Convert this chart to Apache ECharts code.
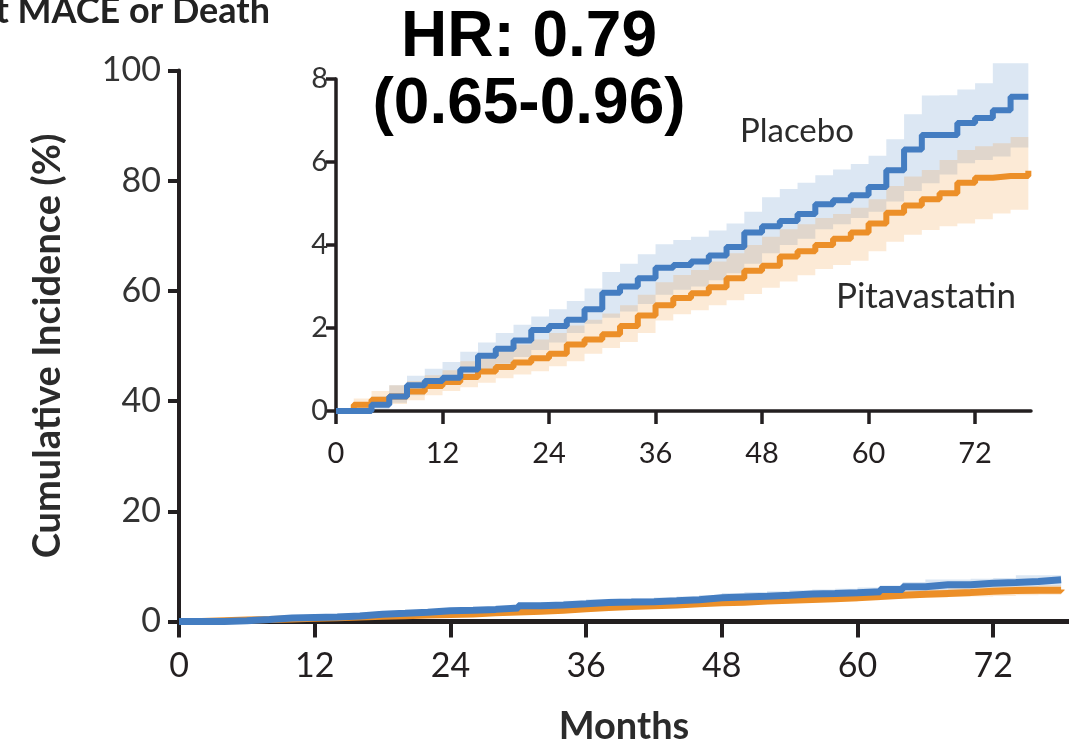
<!DOCTYPE html>
<html><head><meta charset="utf-8">
<script src="https://cdn.jsdelivr.net/npm/echarts@6/dist/echarts.min.js"></script>
<style>html,body{margin:0;padding:0;background:#fff;overflow:hidden}#c{width:1069px;height:744px}</style>
</head><body><div id="c"></div>
<script>
// ---- data ----
const months = [0,2,4,6,8,10,12,14,16,18,20,22,24,26,28,30,32,34,36,38,40,42,44,46,48,50,52,54,56,58,60,62,64,66,68,70,72,74,76,78];
const placebo     = [0,0,0.15,0.35,0.62,0.72,0.8,1.0,1.33,1.5,1.7,1.95,2.05,2.2,2.45,2.85,3.0,3.2,3.45,3.52,3.6,3.75,3.95,4.3,4.45,4.58,4.75,4.98,5.08,5.2,5.4,5.8,6.3,6.65,6.65,6.94,7.06,7.25,7.57,7.57];
const placeboLow  = [0,0,0.05,0.2,0.38,0.55,0.65,0.8,0.98,1.14,1.3,1.47,1.65,1.88,2.1,2.25,2.4,2.58,2.8,2.92,3.0,3.15,3.32,3.55,3.8,4.0,4.15,4.38,4.5,4.65,4.8,5.05,5.3,5.49,5.7,5.97,6.05,6.13,6.35,6.5];
const placeboHigh = [0,0.12,0.35,0.62,0.85,1.02,1.18,1.43,1.65,1.88,2.08,2.28,2.45,2.65,2.95,3.35,3.55,3.78,4.02,4.12,4.2,4.35,4.52,4.8,5.15,5.35,5.5,5.68,5.82,5.95,6.15,6.55,7.15,7.6,7.61,7.75,7.9,8.38,8.38,8.4];
const pitava      = [0,0.15,0.27,0.35,0.47,0.6,0.7,0.82,0.95,1.06,1.17,1.27,1.38,1.6,1.72,1.85,2.05,2.3,2.55,2.72,2.84,2.98,3.2,3.38,3.5,3.72,3.85,4.0,4.15,4.3,4.52,4.78,4.95,5.1,5.25,5.5,5.62,5.66,5.66,5.79];
const pitavaLow   = [0,0,0.1,0.17,0.26,0.38,0.48,0.57,0.68,0.79,0.88,0.96,1.08,1.2,1.38,1.52,1.66,1.88,2.18,2.33,2.43,2.55,2.67,2.82,2.97,3.12,3.27,3.42,3.52,3.62,3.85,4.08,4.25,4.36,4.45,4.52,4.62,4.76,4.85,4.92];
const pitavaHigh  = [0,0.3,0.48,0.62,0.72,0.86,0.98,1.2,1.35,1.47,1.6,1.72,1.88,2.06,2.2,2.35,2.55,2.8,3.1,3.28,3.4,3.6,3.8,4.0,4.2,4.38,4.5,4.65,4.75,4.9,5.1,5.42,5.65,5.81,6.05,6.29,6.38,6.45,6.6,6.77];
const xTicks = [0,12,24,36,48,60,72];
const mainYTicks = [0,20,40,60,80,100];
const insetYTicks = [0,2,4,6,8];
const seriesNames = ['Placebo','Pitavastatin'];
const titleText = 'First MACE or Death';
const hrText = 'HR: 0.79\n(0.65-0.96)';
const yTitle = 'Cumulative Incidence (%)';
const xTitle = 'Months';

// ---- styling ----
const INK = '#231f20';
const BLUE = '#447dc1';
const ORANGE = '#ec8f28';
const BLUE_BAND = 'rgba(68,125,193,0.19)';
const ORANGE_BAND = 'rgba(240,150,50,0.2)';
const SANS = 'Lato, "Open Sans", sans-serif';

const pts = arr => months.map((m, i) => [m, arr[i]]);

// confidence band drawn as a step-shaped polygon through the axes' scales
function band(g, lo, hi, color) {
  return {
    type: 'custom', xAxisIndex: g, yAxisIndex: g, silent: true, z: 1, clip: false,
    data: [[months[0], lo[0]]],
    renderItem: function (params, api) {
      const top = [], bot = [];
      for (let i = 0; i < months.length; i++) {
        const xNext = i < months.length - 1 ? months[i + 1] : months[i];
        top.push(api.coord([months[i], hi[i]]), api.coord([xNext, hi[i]]));
        bot.push(api.coord([months[i], lo[i]]), api.coord([xNext, lo[i]]));
      }
      return { type: 'polygon', shape: { points: top.concat(bot.reverse()) }, style: { fill: color } };
    }
  };
}
function curve(g, name, arr, color, w) {
  return { type: 'line', name: name, xAxisIndex: g, yAxisIndex: g, step: 'end', symbol: 'none',
    data: pts(arr), lineStyle: { color: color, width: w }, itemStyle: { color: color }, z: 3, clip: false };
}

const chart = echarts.init(document.getElementById('c'), null, { renderer: 'canvas' });
chart.setOption({
  animation: false,
  backgroundColor: '#fff',
  grid: [
    { left: 179, top: 70.5, width: 890, height: 551, outerBoundsMode: 'none', containLabel: false },
    { left: 336, top: 79, width: 695, height: 332, outerBoundsMode: 'none', containLabel: false }
  ],
  xAxis: [
    { gridIndex: 0, type: 'value', min: 0, max: 78.7, interval: 12,
      name: xTitle, nameLocation: 'middle', nameGap: 86,
      nameTextStyle: { fontFamily: SANS, fontSize: 38, fontWeight: 'bold', color: '#2b2b2b' },
      axisLine: { show: true, onZero: false, lineStyle: { color: INK, width: 5 } },
      axisTick: { show: true, length: 16, customValues: xTicks, lineStyle: { color: INK, width: 4 } },
      axisLabel: { customValues: xTicks, fontFamily: SANS, fontSize: 34, color: INK, margin: 28 },
      splitLine: { show: false } },
    { gridIndex: 1, type: 'value', min: 0, max: 78.3, interval: 12,
      axisLine: { show: true, onZero: false, lineStyle: { color: INK, width: 3.5 } },
      axisTick: { show: true, length: 13, customValues: xTicks, lineStyle: { color: INK, width: 3.5 } },
      axisLabel: { customValues: xTicks, fontFamily: SANS, fontSize: 29, color: INK, margin: 28 },
      splitLine: { show: false } }
  ],
  yAxis: [
    { gridIndex: 0, type: 'value', min: 0, max: 100, interval: 20,
      name: yTitle, nameLocation: 'middle', nameRotate: 90, nameGap: 112,
      nameTextStyle: { fontFamily: SANS, fontSize: 38, fontWeight: 'bold', color: '#2b2b2b' },
      axisLine: { show: true, lineStyle: { color: INK, width: 4 } },
      axisTick: { show: true, length: 11, customValues: mainYTicks, lineStyle: { color: INK, width: 4 } },
      axisLabel: { customValues: mainYTicks, fontFamily: SANS, fontSize: 34, color: '#333', margin: 18 },
      splitLine: { show: false } },
    { gridIndex: 1, type: 'value', min: 0, max: 8, interval: 2,
      axisLine: { show: true, lineStyle: { color: INK, width: 3.5 } },
      axisTick: { show: true, length: 10, customValues: insetYTicks, lineStyle: { color: INK, width: 3.5 } },
      axisLabel: { customValues: insetYTicks, fontFamily: SANS, fontSize: 29, color: '#333', margin: 8 },
      splitLine: { show: false } }
  ],
  series: [
    band(0, placeboLow, placeboHigh, BLUE_BAND),
    band(0, pitavaLow, pitavaHigh, ORANGE_BAND),
    curve(0, seriesNames[1], pitava, ORANGE, 7),
    curve(0, seriesNames[0], placebo, BLUE, 7),
    band(1, placeboLow, placeboHigh, BLUE_BAND),
    band(1, pitavaLow, pitavaHigh, ORANGE_BAND),
    curve(1, seriesNames[1], pitava, ORANGE, 6),
    curve(1, seriesNames[0], placebo, BLUE, 6)
  ],
  graphic: [
    { type: 'text', x: 270, y: -7, z: 100, style: { text: titleText, textAlign: 'right', fontFamily: SANS, fontSize: 36, fontWeight: 'bold', fill: '#222' } },
    { type: 'text', x: 529, y: 5, z: 100, style: { text: hrText, textAlign: 'center', fontFamily: '"Liberation Sans", Arial, sans-serif', fontSize: 64, fontWeight: 'bold', lineHeight: 67, fill: '#000' } },
    { type: 'text', x: 740, y: 131, z: 100, style: { text: seriesNames[0], textVerticalAlign: 'middle', fontFamily: SANS, fontSize: 33, fill: '#2b2b2b' } },
    { type: 'text', x: 836, y: 297, z: 100, style: { text: seriesNames[1], textVerticalAlign: 'middle', fontFamily: SANS, fontSize: 35, fill: '#2b2b2b' } }
  ]
});
</script>
</body></html>
